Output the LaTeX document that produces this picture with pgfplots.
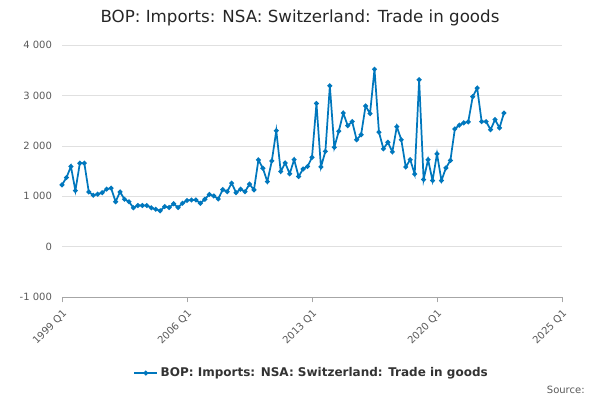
\documentclass[border=0pt]{standalone}
\usepackage{pgfplots}
\pgfplotsset{compat=1.18}
\usepackage{fontspec}
\setmainfont{DejaVu Sans}
\definecolor{ln}{RGB}{0,119,189}
\definecolor{tk}{RGB}{90,90,90}
\begin{document}
\begin{tikzpicture}
\path[use as bounding box] (0,0) rectangle (450pt,300pt);
\node[font=\fontsize{12.5}{15}\selectfont, text=black!85] at (225pt,286.5pt) {BOP: Imports: NSA: Switzerland: Trade in goods};
\node[font=\fontsize{7.5}{9}\selectfont, text=tk, anchor=east] at (442pt,7.5pt) {Source:};
\begin{axis}[
  at={(46.5pt,77.25pt)}, anchor=south west,
  scale only axis, width=375pt, height=189pt,
  xmin=0, xmax=112, ymin=-1000, ymax=4000,
  xtick={0,28,56,84,112},
  xticklabels={1999 Q1,2006 Q1,2013 Q1,2020 Q1,2025 Q1},
  x tick label style={rotate=45, anchor=north east, font=\fontsize{7.5}{9}\selectfont, text=tk},
  ytick={-1000,0,1000,2000,3000,4000},
  yticklabels={-1 000,0,1 000,2 000,3 000,4 000},
  y tick label style={font=\fontsize{7.5}{9}\selectfont, text=tk},
  axis x line*=bottom, axis y line*=left,
  y axis line style={draw=none},
  ytick style={draw=none},
  x axis line style={draw=black!35},
  xtick style={draw=black!35},
  major tick length=4pt,
  tick align=outside,
  ymajorgrids, grid style={draw=black!12},
  legend style={at={(0.5,-0.302)}, anchor=center, draw=none, font=\fontsize{9}{11}\selectfont\bfseries, text=black!80},
  legend cell align=left,
]
\addplot[ln, line width=1.3pt, mark=*, mark size=1.1pt] table[x=i,y=v] {
i v
0 1225
1 1370
2 1590
3 1110
4 1655
5 1655
6 1085
7 1020
8 1040
9 1070
10 1140
11 1160
12 890
13 1085
14 940
15 890
16 770
17 815
18 815
19 815
20 770
21 740
22 710
23 795
24 775
25 850
26 775
27 860
28 915
29 925
30 925
31 860
32 940
33 1035
34 1005
35 945
36 1130
37 1090
38 1260
39 1070
40 1140
41 1090
42 1240
43 1125
44 1720
45 1555
46 1290
47 1700
48 2300
49 1490
50 1660
51 1445
52 1725
53 1390
54 1540
55 1590
56 1770
57 2840
58 1580
59 1890
60 3190
61 1970
62 2290
63 2650
64 2400
65 2480
66 2120
67 2220
68 2790
69 2640
70 3520
71 2270
72 1940
73 2070
74 1880
75 2380
76 2120
77 1580
78 1725
79 1440
80 3310
81 1330
82 1725
83 1310
84 1840
85 1310
86 1560
87 1710
88 2335
89 2410
90 2455
91 2475
92 2975
93 3145
94 2480
95 2480
96 2320
97 2520
98 2355
99 2650
};
\addlegendentry{BOP: Imports: NSA: Switzerland: Trade in goods}
\end{axis}
\end{tikzpicture}
\end{document}
